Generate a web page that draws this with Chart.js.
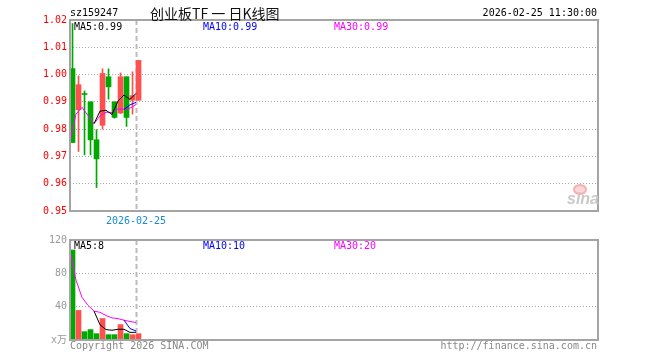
<!DOCTYPE html>
<html lang="zh-CN">
<head>
<meta charset="utf-8">
<title>创业板TF 日K线图</title>
<script src="https://cdn.jsdelivr.net/npm/chart.js@4.4.1/dist/chart.umd.min.js"></script>
<style>
  body { margin: 0; background: #fff; }
  #wrap { position: relative; width: 660px; height: 360px; overflow: hidden;
          font-family: 'DejaVu Sans Mono', monospace; font-size: 10px; }
  canvas { position: absolute; left: 0; }
  .t { position: absolute; white-space: nowrap; line-height: 12px; }
</style>
</head>
<body>
<div id="wrap">
  <canvas id="kline" width="660" height="230" style="top:0"></canvas>
  <canvas id="vol" width="660" height="130" style="top:230px"></canvas>

  <div class="t" style="left:70px;top:7px;color:#000">sz159247</div>
  <div class="t" style="left:150px;top:4px;font-family:'Noto Sans CJK SC';font-size:14px;line-height:18px;color:#111">创业板TF 一 日K线图</div>
  <div class="t" style="right:63px;top:7px;color:#000">2026-02-25 11:30:00</div>

  <div class="t" id="pm0" style="left:74px;top:21px;color:#000"></div>
  <div class="t" id="pm1" style="left:203px;top:21px;color:#00f"></div>
  <div class="t" id="pm2" style="left:334px;top:21px;color:#f0f"></div>

  <div class="t" id="vm0" style="left:74px;top:240px;color:#000"></div>
  <div class="t" id="vm1" style="left:203px;top:240px;color:#00f"></div>
  <div class="t" id="vm2" style="left:334px;top:240px;color:#f0f"></div>

  <div style="position:absolute;left:573px;top:184px;width:10px;height:7px;border:2px solid #f7b0b0;background:#fbd6d6;border-radius:50%"></div>
  <div class="t" style="left:567px;top:191px;font-family:'Liberation Sans';font-style:italic;font-weight:bold;font-size:16px;line-height:16px;color:#c9c9c9">sina</div>

  <div class="t" style="left:70px;top:340px;color:#888">Copyright 2026 SINA.COM</div>
  <div class="t" style="right:63px;top:340px;color:#888">http://finance.sina.com.cn</div>
</div>

<script>
// 日K数据
const open  = [1.0022, 0.9871, 0.9930, 0.9900, 0.9761, 0.9814, 0.9992, 0.9900, 0.9859, 0.9992, 0.9906, 0.9906];
const high  = [1.0187, 0.9995, 0.9940, 0.9900, 0.9798, 1.0021, 1.0021, 0.9900, 1.0006, 0.9992, 1.0010, 1.0052];
const low   = [0.9751, 0.9718, 0.9706, 0.9706, 0.9586, 0.9800, 0.9910, 0.9840, 0.9857, 0.9810, 0.9855, 0.9906];
const close = [0.9751, 0.9963, 0.9927, 0.9761, 0.9691, 1.0004, 0.9955, 0.9843, 0.9992, 0.9843, 0.9923, 1.0052];

// 均线
const ma5  = [null, null, null, null, 0.9820, 0.9866, 0.9869, 0.9854, 0.9903, 0.9925, 0.9909, 0.9931];
const ma10 = [null, null, null, null, null, null, null, null, null, 0.9872, 0.9889, 0.9898];
const ma30 = [0.9752, 0.9855, 0.9880, 0.9850, 0.9820, 0.9848, 0.9862, 0.9861, 0.9874, 0.9873, 0.9877, 0.9890];

// 成交量（万）
const volume = [108, 35.5, 10, 12.5, 7.6, 25.8, 6.4, 6.4, 18.5, 7.6, 6.4, 7.6];
const volMa5  = [null, null, null, null, 34.7, 18.3, 12.5, 11.7, 12.9, 12.9, 9.1, 9.3];
const volMa10 = [null, null, null, null, null, null, null, null, null, 23.8, 13.7, 10.9];
const volMa30 = [108, 71.8, 51.2, 41.5, 34.7, 33.2, 29.4, 26.5, 25.6, 23.8, 22.2, 21.0];

const priceMaLabels = ['MA5:0.99', 'MA10:0.99', 'MA30:0.99'];
const volMaLabels = ['MA5:8', 'MA10:10', 'MA30:20'];
const dateLabel = '2026-02-25';
const markerIndex = 11;   // 虚线所在的交易日
const slots = 88;         // 图宽能放的K线根数

const UP = '#ff5050';
const DOWN = '#00a800';
const MONO = 'DejaVu Sans Mono';

const colors = close.map((c, i) => c > open[i] ? UP : DOWN);
const shift = 0.42; // 新浪的K线画在均线点的右侧

priceMaLabels.forEach((t, i) => document.getElementById('pm' + i).innerText = t);
volMaLabels.forEach((t, i) => document.getElementById('vm' + i).innerText = t);

function maLine(values, color) {
    return {
        type: 'line',
        data: values.map((v, i) => ({ x: i, y: v })),
        borderColor: color,
        borderWidth: 1,
        pointRadius: 0,
        tension: 0,
        order: 0
    };
}

// 边框 + 当日虚线
const framePlugin = {
    id: 'frame',
    beforeDatasetsDraw(chart) {
        const { ctx, chartArea: a, scales } = chart;
        const mx = Math.round(scales.x.getPixelForValue(markerIndex)) + 0.5;
        ctx.save();
        ctx.strokeStyle = '#bbb';
        ctx.lineWidth = 2;
        ctx.setLineDash([5, 3]);
        ctx.beginPath();
        ctx.moveTo(mx, a.top);
        ctx.lineTo(mx, a.bottom);
        ctx.stroke();
        ctx.restore();
    },
    afterDraw(chart, args, opts) {
        const { ctx, chartArea: a, scales } = chart;
        ctx.save();
        ctx.strokeStyle = '#a4a4a4';
        ctx.lineWidth = 2;
        ctx.strokeRect(a.left, a.top, a.right - a.left, a.bottom - a.top);
        if (opts.date) {
            const mx = scales.x.getPixelForValue(markerIndex);
            ctx.fillStyle = '#1a8ad4';
            ctx.font = '10px ' + MONO;
            ctx.textAlign = 'center';
            ctx.textBaseline = 'middle';
            ctx.fillText(opts.date, mx, a.bottom + 10);
        }
        ctx.restore();
    }
};

function baseOptions(yMin, yMax, step, tickColor, tickFmt, pad, date) {
    return {
        responsive: false,
        animation: false,
        layout: { padding: pad },
        plugins: { legend: { display: false }, tooltip: { enabled: false }, frame: { date: date } },
        datasets: { bar: { grouped: false } },
        scales: {
            x: { type: 'linear', min: 0, max: slots, display: false, offset: false },
            y: {
                min: yMin,
                max: yMax,
                ticks: {
                    stepSize: step,
                    color: tickColor,
                    padding: 3,
                    font: { family: MONO, size: 10 },
                    callback: tickFmt
                },
                grid: { color: '#aaa', drawTicks: false },
                border: { display: false, dash: [1, 2] },
                afterFit: s => { s.width = 70; }
            }
        }
    };
}

// K线图
new Chart(document.getElementById('kline'), {
    type: 'bar',
    data: {
        datasets: [
            maLine(ma5, '#000'),
            maLine(ma10, '#00f'),
            maLine(ma30, '#f0f'),
            {
                data: open.map((o, i) => ({ x: i + shift, y: [o, close[i]] })),
                backgroundColor: colors,
                barThickness: 5,
                minBarLength: 1,
                order: 1
            },
            {
                data: low.map((l, i) => ({ x: i + shift, y: [l, high[i]] })),
                backgroundColor: colors,
                barThickness: 1,
                order: 2
            }
        ]
    },
    options: baseOptions(0.95, 1.02, 0.01, '#f00', v => v.toFixed(2),
        { left: 0, top: 20, right: 62, bottom: 19 }, dateLabel),
    plugins: [framePlugin]
});

// 成交量
new Chart(document.getElementById('vol'), {
    type: 'bar',
    data: {
        datasets: [
            maLine(volMa5, '#000'),
            maLine(volMa10, '#00f'),
            maLine(volMa30, '#f0f'),
            {
                data: volume.map((v, i) => ({ x: i + shift, y: v })),
                backgroundColor: colors,
                barThickness: 5,
                order: 1
            }
        ]
    },
    options: baseOptions(0, 120, 40, '#999', v => v === 0 ? 'x万' : v,
        { left: 0, top: 10, right: 62, bottom: 20 }, null),
    plugins: [framePlugin]
});
</script>
</body>
</html>
